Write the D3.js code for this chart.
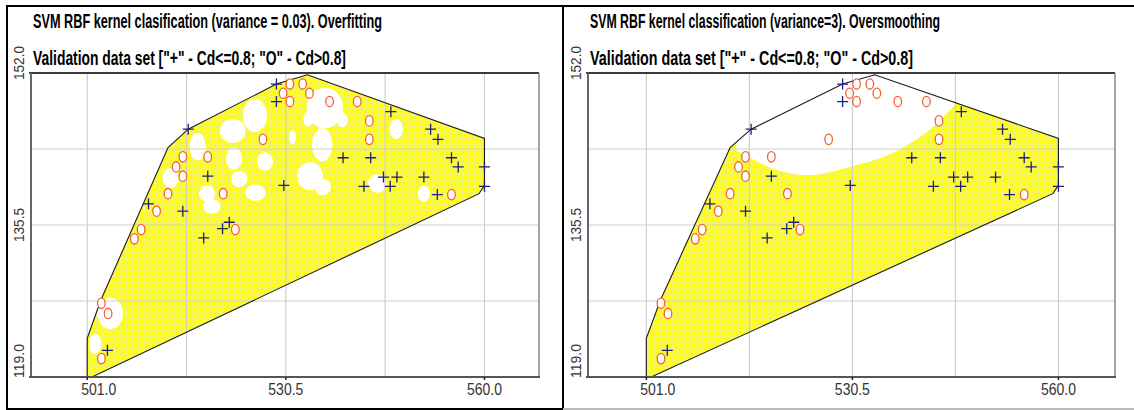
<!DOCTYPE html>
<html><head><meta charset="utf-8">
<script src="https://cdn.jsdelivr.net/npm/d3@7"></script>
<style>
body{margin:0;background:#fff;}
text{font-family:"Liberation Sans Narrow","Liberation Sans",Arial,sans-serif;}
</style></head><body>
<script>
// titles
var titles = ["SVM RBF kernel clasification (variance = 0.03). Overfitting",
              "SVM RBF kernel classification (variance=3). Oversmoothing"];
var subtitle = 'Validation data set ["+" - Cd<=0.8; "O" - Cd>0.8]';

// axes
var xTicks = [501.0, 530.5, 560.0];
var xGrid = [501, 515.75, 530.5, 545.25, 560];
var yTicks = [119.0, 135.5, 152.0];
var yGrid = [119, 127.25, 135.5, 143.75, 152];

// convex hull of the training region
var hull = [[501.0,119.0],[501.0,123.2],[503.0,127.3],[513.0,143.9],[516.0,145.9],[529.1,150.8],
            [533.7,151.8],[560.0,144.9],[560.0,139.8],[559.2,138.9],[501.7,119.0]];

// validation points, Cd<=0.8
var plusPts = [[504.0,121.9],[510.1,137.8],[515.2,137.0],[516.0,145.9],[518.3,134.1],[518.9,140.8],
               [521.1,135.1],[522.1,135.8],[529.1,150.8],[529.1,148.9],[530.2,139.8],[539.0,142.8],
               [542.1,139.7],[543.1,142.8],[545.0,140.7],[546.1,147.8],[546.0,139.7],[547.0,140.7],
               [551.0,140.7],[552.0,145.9],[553.1,144.8],[553.0,138.8],[555.1,142.8],[556.1,141.8],
               [560.0,141.8],[560.0,139.7]];
// validation points, Cd>0.8
var circPts = [[503.1,127.0],[504.1,125.9],[503.1,121.0],[508.0,134.0],[509.0,135.0],[511.3,137.0],
               [513.0,138.9],[514.2,141.8],[515.2,140.8],[515.2,142.9],[518.9,142.9],[521.2,138.9],
               [523.0,135.0],[527.1,144.8],[530.1,149.8],[531.1,150.8],[533.0,150.8],[534.0,149.8],
               [531.1,148.9],[537.0,148.9],[541.1,148.9],[542.9,146.8],[542.9,144.8],[555.1,138.8]];

// variance = 0.03: white (Cd>0.8) islands [cx, cy, rx, ry]
var holes003 = [[504.4,125.9,1.9,1.7],[502.2,122.6,0.9,1.1],[536.3,148.2,2.7,2.2],[525.9,147.4,1.8,1.8],
                [522.6,145.7,1.9,1.3],[517.4,144.0,1.2,1.5],[522.8,142.7,1.2,1.2],[527.4,142.4,1.2,1.0],
                [513.4,140.6,1.2,1.1],[518.8,138.9,1.2,0.9],[523.6,140.5,1.2,0.9],[526.0,139.0,1.5,0.9],
                [534.1,140.8,1.9,1.5],[535.9,144.2,1.5,1.8],[533.8,147.0,0.7,0.8],[538.9,146.9,0.8,0.8],
                [546.9,145.9,1.0,1.1],[531.5,145.0,0.5,0.8],[544.1,140.0,1.4,1.0],[551.0,138.9,0.9,0.9],
                [519.5,137.5,1.3,0.8],[536.0,139.6,1.2,0.9]];

// variance = 3: boundary of the Cd>0.8 region
var boundary3 = [[513.9,143.6],[515.1,143.1],[517.2,142.2],[520.1,141.3],[523.0,140.9],[525.8,140.9],
                 [530.6,141.9],[535.5,142.9],[539.2,144.5],[542.1,146.1],[544.5,148.0],[545.5,148.7],
                 [546.5,149.5]];

var W = 1134, H = 410;
var svg = d3.select("body").append("svg").attr("width", W).attr("height", H);

var defs = svg.append("defs");
var pat = defs.append("pattern").attr("id", "yel").attr("patternUnits", "userSpaceOnUse")
    .attr("width", 3).attr("height", 3);
pat.append("rect").attr("width", 3).attr("height", 3).attr("fill", "#ffff00");
pat.append("rect").attr("width", 3).attr("height", 1).attr("fill", "#f4f46a");
pat.append("rect").attr("width", 1).attr("height", 3).attr("fill", "#f4f46a");

// panel borders
svg.append("path").attr("d", "M7,409V6H563V409Z").attr("fill", "none").attr("stroke", "#000").attr("stroke-width", 2);
svg.append("path").attr("d", "M563,6H1134").attr("stroke", "#000").attr("stroke-width", 2);
svg.append("path").attr("d", "M563,409H1134").attr("stroke", "#bbb").attr("stroke-width", 2);

var panels = [
  {left: 31, right: 539, tx: 33, w1: 349, w2: 313, kind: "holes"},
  {left: 588, right: 1115, tx: 590, w1: 350, w2: 323, kind: "boundary"}
];
var plotTop = 73, plotBottom = 377;

panels.forEach(function(p, pi){
  var x = d3.scaleLinear().domain([492.65, 568.1]).range([p.left, p.right]);
  var y = d3.scaleLinear().domain([119, 152]).range([plotBottom, plotTop]);
  var g = svg.append("g");

  g.append("text").attr("x", p.tx).attr("y", 28).attr("font-size", 20).attr("font-weight", "bold")
    .attr("textLength", p.w1).attr("lengthAdjust", "spacingAndGlyphs").text(titles[pi]);
  g.append("text").attr("x", p.tx).attr("y", 65).attr("font-size", 20).attr("font-weight", "bold")
    .attr("textLength", p.w2).attr("lengthAdjust", "spacingAndGlyphs").text(subtitle);

  var line = d3.line().x(function(d){ return x(d[0]); }).y(function(d){ return y(d[1]); });
  var cid = "clip" + pi;
  defs.append("clipPath").attr("id", cid).append("path").attr("d", line(hull) + "Z");

  var region = g.append("g").attr("clip-path", "url(#" + cid + ")");
  region.append("path").attr("d", line(hull) + "Z").attr("fill", "url(#yel)");

  if (p.kind === "holes") {
    region.selectAll("ellipse").data(holes003).join("ellipse")
      .attr("cx", function(d){ return x(d[0]); }).attr("cy", function(d){ return y(d[1]); })
      .attr("rx", function(d){ return x(d[0] + d[2]) - x(d[0]); })
      .attr("ry", function(d){ return y(d[1]) - y(d[1] + d[3]); })
      .attr("fill", "#fff");
  } else {
    var poly = boundary3.concat([[546.5, 153], [513.9, 153]]);
    region.append("path").attr("d", line.curve(d3.curveBasis)(poly) + "Z").attr("fill", "#fff");
    line.curve(d3.curveLinear);
  }

  // grid
  g.selectAll(".gx").data(xGrid).join("line").attr("class", "gx")
    .attr("x1", function(d){ return x(d); }).attr("x2", function(d){ return x(d); })
    .attr("y1", plotTop).attr("y2", plotBottom).attr("stroke", "#cfcfcf").attr("stroke-width", 1.2);
  g.selectAll(".gy").data(yGrid).join("line").attr("class", "gy")
    .attr("x1", p.left).attr("x2", p.right)
    .attr("y1", function(d){ return y(d); }).attr("y2", function(d){ return y(d); })
    .attr("stroke", "#cfcfcf").attr("stroke-width", 1.2);

  // hull outline
  g.append("path").attr("d", line(hull) + "Z").attr("fill", "none")
    .attr("stroke", "#1a1a1a").attr("stroke-width", 1.1);

  // frame
  g.append("line").attr("x1", p.left - 2).attr("x2", p.right).attr("y1", plotTop).attr("y2", plotTop)
    .attr("stroke", "#000").attr("stroke-width", 1.5);
  g.append("line").attr("x1", p.right).attr("x2", p.right).attr("y1", plotTop).attr("y2", plotBottom)
    .attr("stroke", "#888").attr("stroke-width", 1.5);
  g.append("line").attr("x1", p.left).attr("x2", p.left).attr("y1", plotTop).attr("y2", plotBottom)
    .attr("stroke", "#666").attr("stroke-width", 2);
  g.append("line").attr("x1", p.left - 2).attr("x2", p.right + 1).attr("y1", plotBottom).attr("y2", plotBottom)
    .attr("stroke", "#555").attr("stroke-width", 2);

  // x tick marks and labels
  g.selectAll(".xt").data(xTicks).join("line").attr("class", "xt")
    .attr("x1", function(d){ return x(d); }).attr("x2", function(d){ return x(d); })
    .attr("y1", plotBottom).attr("y2", plotBottom + 3).attr("stroke", "#222").attr("stroke-width", 1.5);
  g.selectAll(".xl").data(xTicks).join("text").attr("class", "xl")
    .attr("x", function(d, i){ return i === 0 ? x(d) - 6 : x(d); })
    .attr("y", 395).attr("font-size", 17).attr("fill", "#333")
    .attr("text-anchor", function(d, i){ return i === 0 ? "start" : "middle"; })
    .attr("textLength", 35).attr("lengthAdjust", "spacingAndGlyphs")
    .text(function(d){ return d.toFixed(1); });

  // y labels (rotated)
  g.selectAll(".yl").data(yTicks).join("text").attr("class", "yl")
    .attr("font-size", 15).attr("fill", "#333")
    .attr("text-anchor", function(d, i){ return i === 1 ? "middle" : "start"; })
    .attr("textLength", 34).attr("lengthAdjust", "spacingAndGlyphs")
    .attr("transform", function(d, i){
      var ty = y(d) + (i === 0 ? 1 : i === 2 ? 7 : 0);
      return "translate(" + (p.left - 7) + "," + ty + ") rotate(-90)";
    })
    .text(function(d){ return d.toFixed(1); });

  // validation markers
  g.selectAll(".pl").data(plusPts).join("path").attr("class", "pl")
    .attr("d", function(d){ var cx = x(d[0]), cy = y(d[1]);
      return "M" + (cx - 5.5) + "," + cy + "H" + (cx + 5.5) + "M" + cx + "," + (cy - 5.5) + "V" + (cy + 5.5); })
    .attr("stroke", "#1e1e7c").attr("stroke-width", 1.3).attr("fill", "none");
  g.selectAll(".ci").data(circPts).join("ellipse").attr("class", "ci")
    .attr("cx", function(d){ return x(d[0]); }).attr("cy", function(d){ return y(d[1]); })
    .attr("rx", 3.8).attr("ry", 5.2).attr("fill", "#fff")
    .attr("stroke", "#f2603a").attr("stroke-width", 1.3);
});
</script></body></html>
